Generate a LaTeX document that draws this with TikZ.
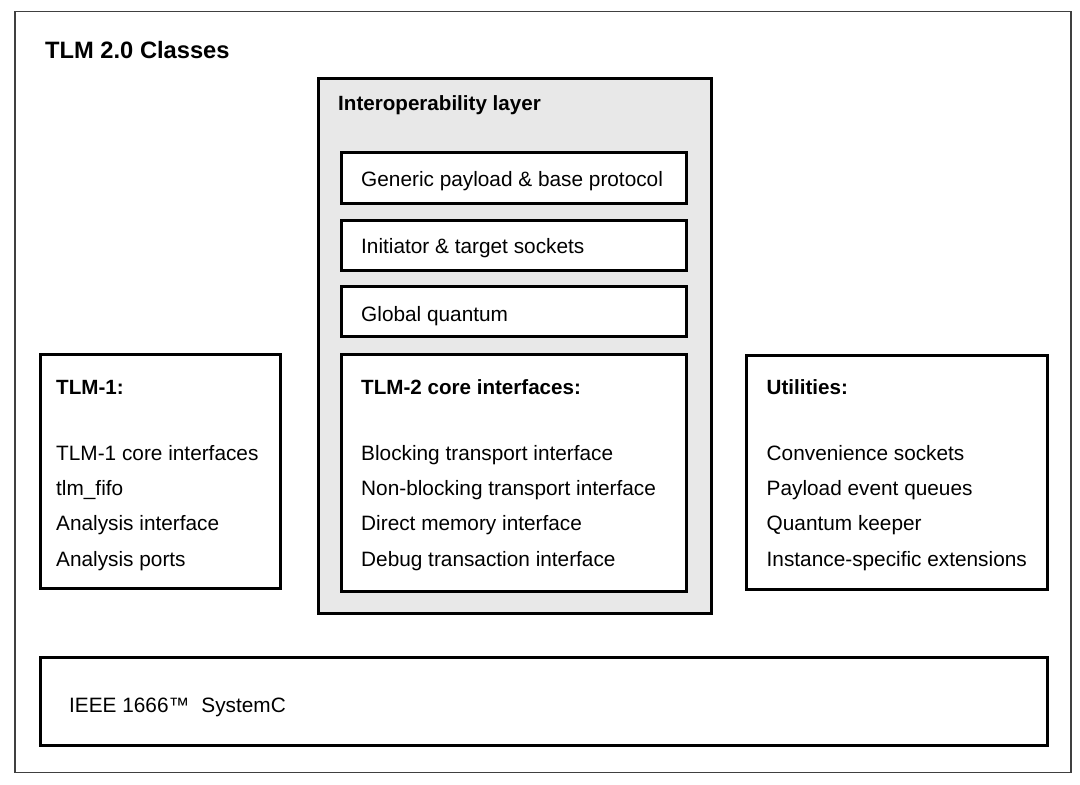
\documentclass[tikz,border=0pt]{standalone}
\usepackage{fontspec}
\setmainfont{Liberation Sans}
\definecolor{layergray}{HTML}{E8E8E8}
\definecolor{framegray}{HTML}{404040}
\tikzset{
  box/.style={draw=black, line width=3pt, fill=white, rectangle, inner sep=0pt, outer sep=0pt, anchor=north west},
  layerbox/.style={box, fill=layergray},
  frame/.style={draw=framegray, line width=1.6pt, rectangle, inner sep=0pt, outer sep=0pt, anchor=north west},
  txt/.style={anchor=base west, inner sep=0pt, font=\fontsize{20.8}{24}\selectfont},
  btxt/.style={txt, font=\fontsize{20.6}{24}\selectfont\bfseries},
  ttl/.style={txt, font=\fontsize{23.7}{28}\selectfont\bfseries},
}
\begin{document}
\begin{tikzpicture}[x=1pt,y=-1pt]
\useasboundingbox (0,0) rectangle (1080,785);
% outer frame
\node[frame, minimum width=1056pt, minimum height=761pt] (outer) at (15,11.5) {};
\node[ttl] (title) at (45,58.3) {TLM 2.0 Classes};
% interoperability layer
\node[layerbox, minimum width=393.5pt, minimum height=535pt] (interop) at (318,78.5) {};
\node[btxt] (interopt) at (338,110) {Interoperability layer};
\node[box, minimum width=345pt, minimum height=51.5pt] (gen) at (341,152) {};
\node[txt] (gent) at (361,186.5) {Generic payload \& base protocol};
\node[box, minimum width=345pt, minimum height=50pt] (init) at (341,220.5) {};
\node[txt] (initt) at (361,253.5) {Initiator \& target sockets};
\node[box, minimum width=345pt, minimum height=49.5pt] (glob) at (341,286.5) {};
\node[txt] (globt) at (361,321) {Global quantum};
\node[box, minimum width=345pt, minimum height=237pt] (core) at (341,354) {};
\node[btxt] (coreh) at (361,394.3) {TLM-2 core interfaces:};
\node[txt] (core1) at (361,460) {Blocking transport interface};
\node[txt] (core2) at (361,495.5) {Non-blocking transport interface};
\node[txt] (core3) at (361,530.7) {Direct memory interface};
\node[txt] (core4) at (361,566) {Debug transaction interface};
% TLM-1
\node[box, minimum width=240.5pt, minimum height=234pt] (tlm1) at (40,354) {};
\node[btxt] (tlm1h) at (56,394.3) {TLM-1:};
\node[txt] (tlm1a) at (56,460) {TLM-1 core interfaces};
\node[txt] (tlm1b) at (56,495.5) {tlm\_fifo};
\node[txt] (tlm1c) at (56,530.7) {Analysis interface};
\node[txt] (tlm1d) at (56,566) {Analysis ports};
% Utilities
\node[box, minimum width=301.5pt, minimum height=234.5pt] (util) at (746,355) {};
\node[btxt] (utilh) at (766.5,394.3) {Utilities:};
\node[txt] (util1) at (766.5,460) {Convenience sockets};
\node[txt] (util2) at (766.5,495.5) {Payload event queues};
\node[txt] (util3) at (766.5,530.7) {Quantum keeper};
\node[txt] (util4) at (766.5,566) {Instance-specific extensions};
% SystemC
\node[box, minimum width=1007.5pt, minimum height=88pt] (ieee) at (40,657.5) {};
\node[txt] (ieeet) at (69,712.3) {IEEE 1666™\hspace{12pt}SystemC};
\end{tikzpicture}
\end{document}
